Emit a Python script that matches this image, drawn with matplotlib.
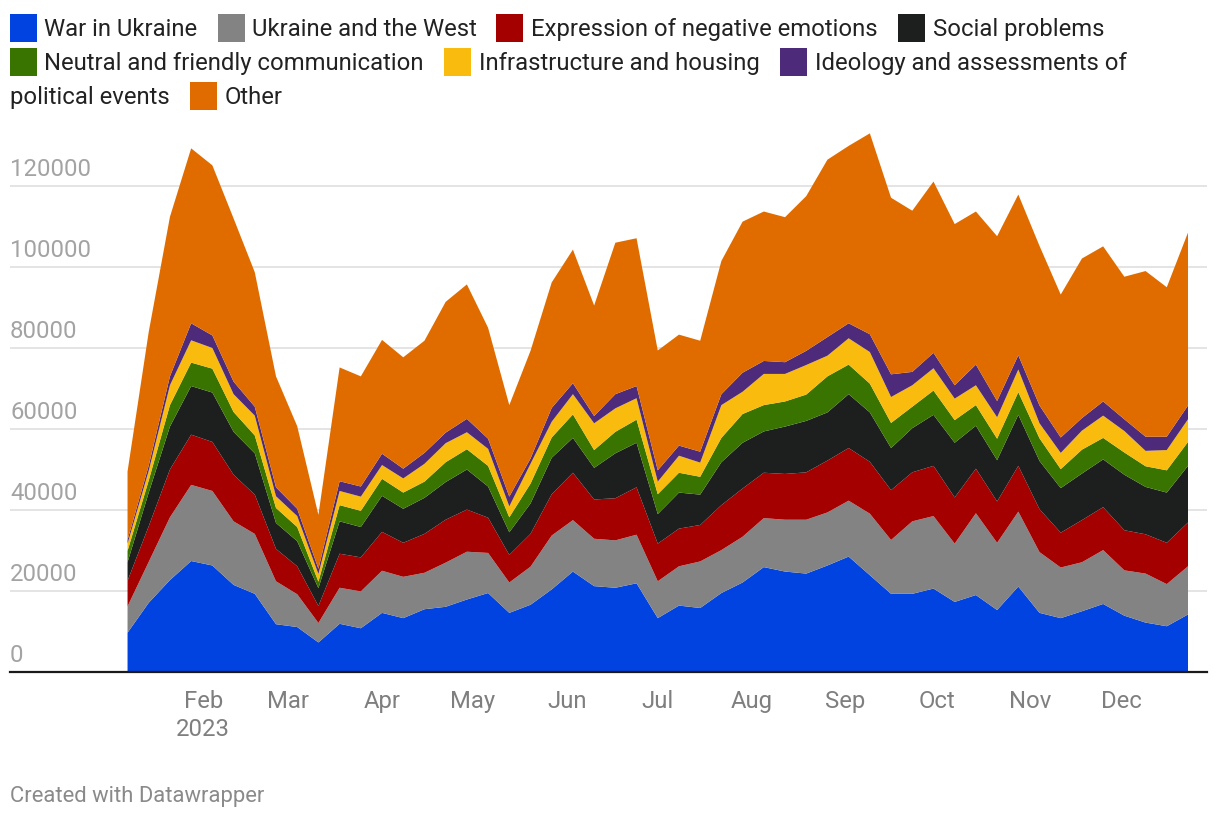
import matplotlib
matplotlib.use("Agg")
import matplotlib.pyplot as plt
import matplotlib.dates as mdates
from matplotlib.patches import Rectangle
from matplotlib import transforms
import pandas as pd
import numpy as np

plt.rcParams['font.family'] = ['Roboto', 'DejaVu Sans']

# ---------------- data (weekly, 2023) ----------------
start_date = "2023-01-07"
n_weeks = 51

war_in_ukraine = [9700, 17100, 22700, 27400, 26300, 21500, 19300, 11800, 11100, 7300,
                  11900, 10800, 14600, 13300, 15500, 16100, 17900, 19500, 14600, 16600,
                  20400, 24800, 21200, 20800, 21900, 13300, 16400, 15800, 19500, 22100,
                  25900, 24800, 24300, 26300, 28500, 23900, 19300, 19300, 20600, 17300,
                  19000, 15300, 21100, 14600, 13300, 15000, 16800, 13900, 12200, 11300, 14200]
ukraine_west = [6500, 10100, 15500, 18800, 18400, 15700, 14800, 10600, 8100, 4800,
                8900, 9100, 10400, 10200, 9000, 10900, 11800, 9900, 7500, 9400,
                13300, 12700, 11700, 11700, 12000, 9100, 9700, 11500, 10600, 11300,
                12100, 12800, 13300, 13100, 13800, 15200, 13300, 17900, 17900, 14400,
                20200, 16600, 18500, 15000, 12500, 12100, 13300, 11200, 12100, 10400, 11900]
negative_emotions = [6300, 8800, 11800, 12400, 12100, 11500, 9700, 8000, 6900, 4200,
                     8400, 8400, 9600, 8400, 9600, 10600, 10400, 8700, 6800, 8100,
                     10200, 11700, 9700, 10400, 11700, 9300, 9300, 9000, 11100, 11900,
                     11200, 11300, 11700, 12800, 13000, 12800, 12300, 12100, 12400, 11400,
                     11000, 10200, 11300, 10600, 8600, 10400, 10600, 9900, 9700, 10200, 10800]
social_problems = [4600, 8300, 10600, 12000, 12200, 10600, 10200, 6400, 6200, 4400,
                   8000, 7500, 8900, 8400, 8900, 9300, 9900, 7700, 5600, 7500,
                   9000, 8600, 7800, 11100, 11000, 7300, 8900, 7500, 10600, 11300,
                   10200, 11700, 12700, 11900, 13300, 12200, 10400, 10900, 12600, 13500,
                   10600, 10200, 12600, 11900, 11000, 11500, 11800, 13700, 11700, 12400, 14000]
neutral_friendly = [2800, 3000, 5300, 5800, 5900, 4900, 4400, 3700, 3500, 1600,
                    4000, 4000, 4200, 4000, 4000, 4900, 5000, 5100, 3700, 4900,
                    5000, 5800, 4400, 5300, 5700, 4900, 4900, 4400, 6000, 7100,
                    6500, 6200, 6500, 8900, 7300, 7100, 6200, 5300, 6000, 5600,
                    5100, 5300, 5600, 5600, 4700, 5900, 5300, 5500, 5100, 5500, 5900]
infrastructure = [1800, 2400, 4900, 5500, 5100, 4400, 4900, 2900, 2700, 1900,
                  3500, 3500, 3400, 3500, 4400, 4700, 4200, 4200, 2700, 4900,
                  3900, 5000, 6600, 5800, 5300, 3100, 4200, 3500, 8100, 5500,
                  7700, 6800, 7300, 5100, 6500, 7800, 6400, 5300, 5500, 5300,
                  4900, 5300, 5600, 3700, 4000, 4700, 5500, 5300, 3800, 5000, 5600]
ideology = [900, 1300, 2200, 4200, 3100, 3100, 2200, 2200, 1800, 1300,
            2400, 2500, 2800, 2400, 2700, 2600, 3300, 2500, 2400, 1300,
            3400, 2700, 1800, 3500, 3000, 2800, 2500, 2700, 2700, 4700,
            3200, 2900, 3500, 4600, 3700, 4400, 5600, 3300, 3800, 3300,
            5100, 4000, 3500, 4400, 3800, 3100, 3500, 2900, 3500, 3300, 3400]
other = [16900, 33000, 39400, 43200, 42000, 40300, 33200, 27400, 20400, 13300,
         28100, 27200, 28100, 27500, 27700, 32300, 33200, 27400, 22600, 26600,
         31000, 33000, 27300, 37400, 36500, 29600, 27400, 27400, 32900, 37300,
         36900, 35800, 38200, 43800, 43800, 49600, 43600, 39800, 42300, 39800,
         37800, 40700, 39700, 39400, 35300, 39400, 38300, 35200, 40900, 36900, 42700]

series_labels = ["War in Ukraine", "Ukraine and the West", "Expression of negative emotions",
                 "Social problems", "Neutral and friendly communication",
                 "Infrastructure and housing", "Ideology and assessments of\npolitical events", "Other"]
series_colors = ["#0043e0", "#838383", "#a50000", "#1d1f1e", "#3a7400", "#f8bb0e", "#4e2a7b", "#e06c00"]

y_ticks = [0, 20000, 40000, 60000, 80000, 100000, 120000]
month_ticks = ["2023-02-01", "2023-03-01", "2023-04-01", "2023-05-01", "2023-06-01", "2023-07-01",
               "2023-08-01", "2023-09-01", "2023-10-01", "2023-11-01", "2023-12-01"]
month_labels = ["Feb\n2023", "Mar", "Apr", "May", "Jun", "Jul", "Aug", "Sep", "Oct", "Nov", "Dec"]

FS = 17.2

# ---------------- figure ----------------
W, H = 1220, 818
fig = plt.figure(figsize=(W / 100, H / 100), dpi=100)


def fx(px):
    return px / W


def fy(py):
    return 1 - py / H


ax_left, ax_right, ax_bottom, ax_top = 10, 1207, 672, 125.25
ax = fig.add_axes([fx(ax_left), fy(ax_bottom), fx(ax_right - ax_left), (ax_bottom - ax_top) / H])

dates = pd.date_range(start_date, periods=n_weeks, freq="7D")
x = mdates.date2num(dates.to_pydatetime())

data = [war_in_ukraine, ukraine_west, negative_emotions, social_problems,
        neutral_friendly, infrastructure, ideology, other]
ax.stackplot(x, *data, colors=series_colors, linewidth=0, zorder=2)

px_per_day = 3.029
ax.set_xlim(x[0] - 117.5 / px_per_day, x[-1] + 19 / px_per_day)
ax.set_ylim(0, 135000)

for s in ["top", "right", "left"]:
    ax.spines[s].set_visible(False)
ax.spines["bottom"].set_color("#1a1a1a")
ax.spines["bottom"].set_linewidth(1.6)
ax.spines["bottom"].set_zorder(5)

ax.set_yticks(y_ticks)
ax.yaxis.grid(True, color="#e2e2e2", linewidth=1.3, zorder=0)
ax.set_axisbelow(True)
ax.tick_params(axis="y", length=0, labelleft=False)

# y labels above gridlines, left aligned
trans = transforms.offset_copy(ax.get_yaxis_transform(), fig=fig, x=0, y=10, units="dots")
for v in y_ticks:
    ax.text(0, v, str(v), transform=trans, ha="left", va="baseline",
            fontsize=FS, color="#a3a3a3", zorder=1)

ax.set_xticks(mdates.date2num(pd.to_datetime(month_ticks).to_pydatetime()))
ax.set_xticklabels(month_labels, fontsize=FS, color="#7f7f7f", linespacing=1.3, va="top")
ax.tick_params(axis="x", length=0, pad=13)

# ---------------- legend ----------------
leg_items = [
    (0, 10, 44, 28), (1, 218, 252, 28), (2, 496, 531, 28), (3, 898, 933, 28),
    (4, 10, 44, 62), (5, 444, 479, 62), (6, 780, 815, 62), (7, 190, 225, 96),
]
for idx, sx, tx, cy in leg_items:
    fig.patches.append(Rectangle((fx(sx), fy(cy + 14)), fx(27), 28 / H,
                                 transform=fig.transFigure, facecolor=series_colors[idx],
                                 edgecolor="none"))
    label = series_labels[idx]
    if idx == 6:
        first, second = label.split("\n")
        fig.text(fx(tx), fy(cy + 8), first, fontsize=FS, color="#222222", va="baseline", ha="left")
        fig.text(fx(10), fy(cy + 42), second, fontsize=FS, color="#222222", va="baseline", ha="left")
    else:
        fig.text(fx(tx), fy(cy + 8), label, fontsize=FS, color="#222222", va="baseline", ha="left")

fig.text(fx(10), fy(802), "Created with Datawrapper", fontsize=15.8, color="#8a8a8a",
         va="baseline", ha="left")

fig.savefig("out.png", dpi=100, facecolor="white")
